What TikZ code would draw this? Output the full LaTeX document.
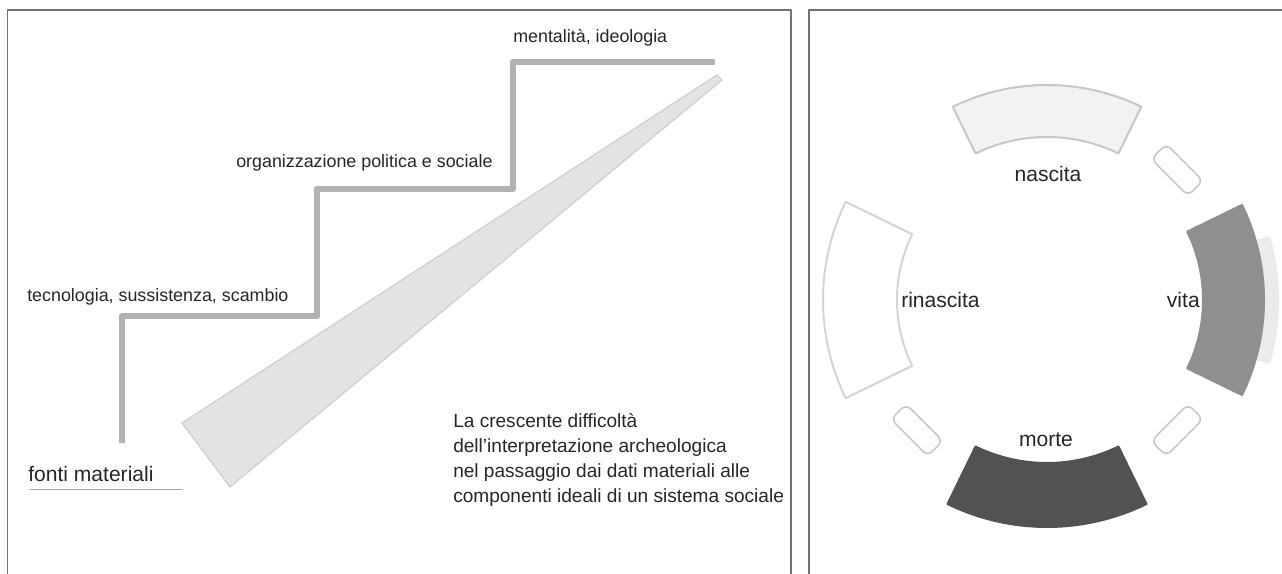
\documentclass[tikz,border=0pt]{standalone}
\usepackage{fontspec}
\setmainfont{Liberation Sans}
\begin{document}
\begin{tikzpicture}[x=0.75pt,y=0.75pt,line join=round,line cap=round,
	frame/.style={draw=black!55,line width=1.1pt},
	gradino/.style={draw=black!30,line width=5pt,line cap=butt},
	etichetta/.style={inner sep=0pt,text=black!85,font=\fontsize{13.4}{16}\selectfont},
	fase/.style={inner sep=0pt,text=black!85,font=\fontsize{15.8}{19}\selectfont},
	settore/.style={line width=1.5pt},
	anello/.style={draw=black!22,fill=white,line width=1.2pt,rounded corners=5pt,
		minimum width=39pt,minimum height=16pt,inner sep=0pt}]
	\useasboundingbox (0,0) rectangle (1282,574);
	% cornici
	\draw[frame] (7.5,0) -- (7.5,564) -- (791,564) -- (791,0);
	\draw[frame] (809,0) -- (809,564) -- (1282,564);
	
	% scala a sinistra
	\fill[black!11,draw=black!18,line width=1pt] (182,151) -- (717,499) -- (722,494) -- (230,87) -- cycle;
	\draw[gradino] (122,131) |- (317,258) |- (513,385) |- (715,512);
	\node[etichetta,anchor=base west] (mentalita) at (513,531) {mentalità, ideologia};
	\node[etichetta,anchor=base west] (politica) at (236,406) {organizzazione politica e sociale};
	\node[etichetta,anchor=base west] (tecnologia) at (27,272) {tecnologia, sussistenza, scambio};
	\node[fase,anchor=base west] (fonti) at (28,92) {fonti materiali};
	\draw[black!35,line width=0.6pt] ([shift={(2,-7)}]fonti.base west) -- ++(152,0);
	\node[anchor=north west,inner sep=0pt,align=left,text=black!85,
		font=\fontsize{14.3}{18.75}\selectfont] (nota) at (453,161)
		{La crescente difficoltà\\dell’interpretazione archeologica\\nel passaggio dai dati materiali alle\\componenti ideali di un sistema sociale};
	
	% ciclo a destra
	\coordinate (ciclo) at (1047,274);
	\fill[black!8] ([shift={(ciclo)}]-16:205) arc[start angle=-16,end angle=16,radius=205]
		-- ([shift={(ciclo)}]16:232) arc[start angle=16,end angle=-16,radius=232] -- cycle;
	\foreach \ang/\rin/\rout/\col/\bordo in {90/163/215/black!5/black!22,0/156/217/black!44/black!44,
		270/163/227/black!68/black!68,180/150/224/white/black!17}
	\draw[settore,draw=\bordo,fill=\col] ([shift={(ciclo)}]{\ang-26}:\rout)
		arc[start angle=\ang-26,end angle=\ang+26,radius=\rout]
		-- ([shift={(ciclo)}]{\ang+26}:\rin)
		arc[start angle=\ang+26,end angle=\ang-26,radius=\rin] -- cycle;
	\foreach \ang [count=\i] in {45,-45,225}
	\node[anello,rotate=\ang+90] (anello\i) at ([shift={(ciclo)}]\ang:184) {};
	\node[fase,anchor=base] (nascita) at (1048,392) {nascita};
	\node[fase,anchor=base west] (rinascita) at (901,266) {rinascita};
	\node[fase,anchor=base east] (vita) at (1200,266) {vita};
	\node[fase,anchor=base] (morte) at (1046,127) {morte};
\end{tikzpicture}
\end{document}
